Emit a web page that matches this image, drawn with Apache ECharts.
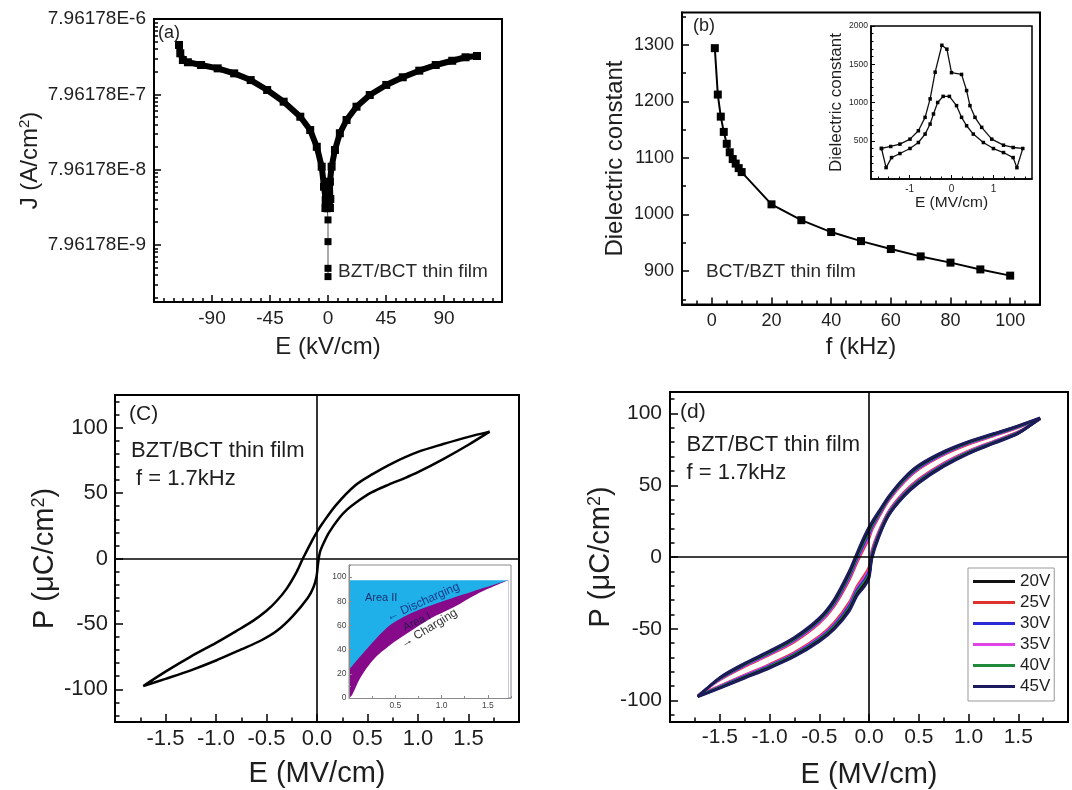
<!DOCTYPE html>
<html><head><meta charset="utf-8">
<script src="https://cdn.jsdelivr.net/npm/echarts@6/dist/echarts.min.js"></script>
<style>html,body{margin:0;padding:0;background:#fff}#c{width:1072px;height:790px}</style>
</head><body><div id="c"></div><script>
const FONT = '"Liberation Sans", Arial, Helvetica, sans-serif';
const INK = '#1e1e1e';

// ---------------- (a) J vs E ----------------
const aYTickLabels = ['7.96178E-9', '7.96178E-8', '7.96178E-7', '7.96178E-6'];
const aXTickValues = [-90, -45, 0, 45, 90];
const aLeftE = [-115.6, -114.6, -112.6, -108.7, -98.5, -85.6, -72.8, -60, -47.2, -34.4, -21.5, -13.8, -8.7, -4.9, -3.1, -1.8, -2];
const aLeftJ = [3.60e-6, 2.79e-6, 2.27e-6, 2.12e-6, 1.95e-6, 1.76e-6, 1.51e-6, 1.23e-6, 9.08e-7, 6.35e-7, 4.01e-7, 2.67e-7, 1.60e-7, 8.7e-8, 4.72e-8, 3.14e-8, 2.46e-8];
const aMidE = [-1.2, -0.6, 0, 0, 0, 0];
const aMidJ = [2.9e-8, 2.4e-8, 1.71e-8, 8.8e-9, 3.89e-9, 3.02e-9];
const aRightE = [1.5, 1.8, 1.5, 2.8, 5.4, 9.2, 14.4, 22.1, 32.4, 45.2, 58, 70.8, 83.6, 96.4, 106.7, 115.6];
const aRightJ = [2.46e-8, 3.24e-8, 5.5e-8, 8.7e-8, 1.45e-7, 2.42e-7, 3.63e-7, 5.45e-7, 7.80e-7, 1.06e-6, 1.34e-6, 1.64e-6, 1.95e-6, 2.22e-6, 2.47e-6, 2.57e-6];

// ---------------- (b) dielectric constant vs f ----------------
const bFreq = [1, 2, 3, 4, 5, 6, 7, 8, 9, 10, 20, 30, 40, 50, 60, 70, 80, 90, 100];
const bEps = [1294, 1212, 1173, 1146, 1125, 1110, 1098, 1090, 1082, 1075, 1018, 990, 969, 953, 939, 926, 915, 903, 892];
const bXTicks = [0, 20, 40, 60, 80, 100];
const bYTicks = [900, 1000, 1100, 1200, 1300];
// inset: closed C–E loop
const bInsetE = [-1.67, -1.45, -1.23, -0.99, -0.79, -0.63, -0.51, -0.39, -0.23, -0.11, 0.0, 0.24, 0.36, 0.44, 0.56, 0.72, 0.96, 1.24, 1.47, 1.70,
                 1.56, 1.47, 1.24, 1.0, 0.76, 0.52, 0.36, 0.24, 0.12, -0.05, -0.2, -0.33, -0.43, -0.51, -0.63, -0.79, -0.99, -1.23, -1.43, -1.56, -1.67];
const bInsetEps = [399, 425, 456, 521, 631, 806, 1047, 1397, 1748, 1697, 1390, 1367, 1156, 959, 806, 675, 521, 442, 412, 399,
                   148, 280, 346, 398, 477, 587, 696, 806, 959, 1080, 1080, 1000, 850, 718, 587, 477, 399, 333, 280, 149, 399];
const bInsetXTicks = [-1, 0, 1];
const bInsetYTicks = [500, 1000, 1500, 2000];

// ---------------- (c) P–E loop ----------------
const cUpE = [1.71, 1.5, 1.25, 1.0, 0.75, 0.55, 0.38, 0.19, 0.055, 0, -0.05, -0.11, -0.14, -0.2, -0.3, -0.4, -0.5, -0.63, -0.8, -1.0, -1.25, -1.5, -1.72];
const cUpP = [97, 93, 87.5, 81.5, 73, 64.5, 56, 41, 27, 20.4, 13.5, 4.5, 0, -10, -23, -32.5, -40, -47.5, -55.5, -64.5, -75, -86.5, -97.5];
const cLoE = [-1.72, -1.5, -1.25, -1.0, -0.75, -0.55, -0.4, -0.24, -0.09, -0.035, -0.005, 0.01, 0.03, 0.07, 0.12, 0.22, 0.3, 0.38, 0.54, 0.71, 0.87, 1.0, 1.25, 1.5, 1.71];
const cLoP = [-97.5, -92, -85.5, -78, -69.5, -62.5, -55.5, -44, -30, -22, -14, -4, 5, 12.5, 20, 31, 37.5, 42.5, 50.5, 56.5, 61.5, 66, 76, 87, 97];
const cXTicks = [-1.5, -1, -0.5, 0, 0.5, 1, 1.5];
const cYTicks = [-100, -50, 0, 50, 100];
// inset: energy storage areas
const cInsetTopE = [0, 1.72];
const cInsetTopP = [97.3, 97.3];
const cInsetDisE = [0, 0.23, 0.445, 0.70, 0.99, 1.32, 1.72];
const cInsetDisP = [23.3, 43.8, 60.4, 71.2, 79.5, 87.7, 97.3];
const cInsetChgE = [0, 0.03, 0.12, 0.26, 0.445, 0.63, 0.88, 1.135, 1.39, 1.72];
const cInsetChgP = [0, 2, 16.4, 31.5, 43.8, 53.5, 65.8, 75.3, 86.3, 97.3];
const cInsetXTicks = [0.5, 1.0, 1.5];
const cInsetYTicks = [0, 20, 40, 60, 80, 100];

// ---------------- (d) P–E loops vs voltage ----------------
const dE = [1.72, 1.5, 1.25, 1.0, 0.75, 0.5, 0.35, 0.2, 0.1, 0.03, 0, -0.05, -0.12, -0.2, -0.35, -0.5, -0.75, -1.0, -1.25, -1.5, -1.72];
const dVoltages = ['20V', '25V', '30V', '35V', '40V', '45V'];
const dColors = {'20V': '#111111', '25V': '#e0322c', '30V': '#2b2bd6', '35V': '#e043e6', '40V': '#1f8a3a', '45V': '#1b1b5e'};
const dUp45 = [97, 91.5, 86, 80.5, 73.5, 64, 55, 42.5, 32, 24.5, 21, 14, 3, -10, -29.5, -42.5, -56, -65.5, -74, -84, -97.5];
const dLo45 = [97, 86, 79, 72, 63, 51.5, 42, 29, 14, -1, -15, -21, -27, -38, -50.5, -59, -69.5, -77.5, -84.5, -91.5, -97.5];
const dUp20 = [96.8, 91.3, 85.7, 80.1, 73.0, 63.4, 54.4, 41.9, 31.2, 23.4, 19.4, 12.4, 1.7, -11.3, -30.5, -43.2, -56.6, -66.0, -74.5, -84.3, -97.3];
const dLo20 = [96.8, 86.3, 79.3, 72.4, 63.5, 52.1, 42.6, 29.6, 14.8, 0.2, -13.4, -19.4, -25.7, -36.7, -49.6, -58.3, -68.9, -77.0, -84.0, -91.2, -97.3];
const dUp40 = [96.6, 91.0, 85.4, 79.7, 72.6, 62.9, 53.8, 41.3, 30.4, 22.2, 17.8, 10.8, 0.3, -12.5, -31.4, -44.0, -57.2, -66.6, -74.9, -84.7, -97.1];
const dLo40 = [96.6, 86.5, 79.6, 72.8, 63.9, 52.6, 43.2, 30.2, 15.6, 1.3, -11.8, -17.8, -24.3, -35.5, -48.6, -57.5, -68.3, -76.4, -83.6, -90.8, -97.1];
const dUp30 = [96.4, 90.8, 85.0, 79.4, 72.1, 62.3, 53.2, 40.7, 29.6, 21.1, 16.1, 9.3, -1.1, -13.8, -32.4, -44.7, -57.8, -67.1, -75.4, -85.0, -96.9];
const dLo30 = [96.4, 86.8, 80.0, 73.1, 64.4, 53.2, 43.8, 30.8, 16.4, 2.5, -10.1, -16.3, -23.0, -34.2, -47.7, -56.8, -67.7, -75.9, -83.1, -90.5, -96.9];
const dUp35 = [96.2, 90.5, 84.7, 79.0, 71.6, 61.8, 52.6, 40.1, 28.8, 19.9, 14.5, 7.7, -2.4, -15.0, -33.3, -45.5, -58.4, -67.7, -75.9, -85.4, -96.7];
const dLo35 = [96.2, 87.0, 80.3, 73.5, 64.9, 53.7, 44.4, 31.4, 17.2, 3.6, -8.5, -14.7, -21.6, -33.0, -46.7, -56.0, -67.1, -75.3, -82.6, -90.1, -96.7];
const dUp25 = [96.0, 90.3, 84.4, 78.6, 71.2, 61.2, 52.1, 39.5, 28.0, 18.8, 12.9, 6.1, -3.8, -16.3, -34.3, -46.2, -59.1, -68.2, -76.4, -85.7, -96.5];
const dLo25 = [96.0, 87.3, 80.6, 73.9, 65.4, 54.3, 45.0, 32.1, 18.1, 4.8, -6.9, -13.1, -20.3, -31.7, -45.8, -55.3, -66.5, -74.8, -82.2, -89.8, -96.5];
const dXTicks = [-1.5, -1, -0.5, 0, 0.5, 1, 1.5];
const dYTicks = [-100, -50, 0, 50, 100];

// ---------------- helpers ----------------
const zip = (xs, ys) => xs.map((x, i) => [x, ys[i]]);
const loop = (up, lo) => zip(dE, up).concat(zip(dE, lo).reverse());
function steps(a, b, s, exclude) {
  const out = [];
  for (let i = 0; a + i * s <= b + 1e-9; i++) {
    const v = +(a + i * s).toFixed(6);
    if (!exclude.some(m => Math.abs(m - v) < 1e-9)) out.push(v);
  }
  return out;
}
const xAxes = [], yAxes = [];
function addAxes(list, dim, gi, o) {
  const pos = dim === 'x' ? 'bottom' : 'left';
  const idx = list.length;
  const lc = o.lineColor || '#000';
  list.push({
    type: 'value', gridIndex: gi, min: o.min, max: o.max, position: pos, z: o.z || 0,
    axisLine: {show: true, onZero: false, lineStyle: {color: lc, width: o.lineWidth || 2}},
    axisTick: {show: true, inside: true, length: o.majLen, customValues: o.majors, lineStyle: {color: lc, width: o.tickWidth || 1.5}},
    axisLabel: {show: true, customValues: o.majors, formatter: o.fmt, fontSize: o.fontSize, fontFamily: FONT, color: o.labelColor || INK, margin: o.margin},
    splitLine: {show: false},
    name: o.name || '', nameLocation: 'middle', nameGap: o.nameGap || 0,
    nameTextStyle: {fontSize: o.nameSize || 12, fontFamily: FONT, color: INK, lineHeight: o.nameLH, rich: o.rich}
  });
  list.push({
    type: 'value', gridIndex: gi, min: o.min, max: o.max, position: pos, z: o.z || 0,
    axisLine: {show: false, onZero: false}, axisLabel: {show: false}, splitLine: {show: false},
    axisTick: {show: true, inside: true, length: o.minLen, customValues: o.minors, lineStyle: {color: lc, width: o.tickWidth || 1.5}}
  });
  return idx;
}

// grids
const grids = [
  {left: 154, top: 19, width: 348, height: 283},
  {left: 682, top: 12.5, width: 358, height: 292},
  {left: 871, top: 26, width: 161, height: 153},
  {left: 115, top: 395, width: 404, height: 327},
  {left: 349, top: 565, width: 162, height: 133},
  {left: 670, top: 392, width: 398, height: 331}
].map((g, i) => Object.assign(g, {show: true, borderColor: i === 4 ? '#8a8a8a' : '#000', borderWidth: i === 4 ? 1 : (i === 2 ? 1.5 : 2), backgroundColor: 'transparent'}));

// (a) axes
const aYMax = Math.log10(7.96178e-6), aYMin = aYMax - 283 / 75.3;
const aYMajors = aYTickLabels.map(s => Math.log10(parseFloat(s)));
const aYMinors = [];
[7.96178e-10, 7.96178e-9, 7.96178e-8, 7.96178e-7].forEach(b => { for (let k = 2; k <= 9; k++) { const v = Math.log10(b * k); if (v > aYMin && v < aYMax) aYMinors.push(v); } });
const axA = addAxes(xAxes, 'x', 0, {min: -135, max: 135, majors: aXTickValues, minors: steps(-127.5, 127.5, 7.5, aXTickValues), fmt: v => String(v), fontSize: 19, margin: 7, majLen: 7, minLen: 4,
  name: 'E (kV/cm)', nameGap: 33, nameSize: 24});
const ayA = addAxes(yAxes, 'y', 0, {min: aYMin, max: aYMax, majors: aYMajors, minors: aYMinors,
  fmt: v => { for (const s of aYTickLabels) if (Math.abs(Math.log10(parseFloat(s)) - v) < 1e-6) return s; return ''; },
  fontSize: 19, margin: 8, majLen: 7, minLen: 4,
  name: 'J (A/cm{s|2})', nameGap: 111, nameSize: 24, nameLH: 26, rich: {s: {fontSize: 15, verticalAlign: 'top', lineHeight: 12, fontFamily: FONT, color: INK}}});

// (b) axes
const axB = addAxes(xAxes, 'x', 1, {min: -10, max: 110, majors: bXTicks, minors: steps(-5, 105, 5, bXTicks), fmt: v => String(v), fontSize: 18, margin: 8, majLen: 7, minLen: 4,
  name: 'f (kHz)', nameGap: 31, nameSize: 24});
const ayB = addAxes(yAxes, 'y', 1, {min: 841, max: 1357, majors: bYTicks, minors: steps(850, 1350, 50, bYTicks), fmt: v => String(v), fontSize: 18, margin: 8, majLen: 7, minLen: 4,
  name: 'Dielectric constant', nameGap: 54, nameSize: 24, nameLH: 26});
const axBi = addAxes(xAxes, 'x', 2, {min: -1.92, max: 1.92, majors: bInsetXTicks, minors: steps(-1.75, 1.75, 0.25, bInsetXTicks), fmt: v => String(v), fontSize: 10, margin: 5, majLen: 4, minLen: 2.5, lineWidth: 1.5, tickWidth: 1,
  name: 'E (MV/cm)', nameGap: 14, nameSize: 15.5});
const ayBi = addAxes(yAxes, 'y', 2, {min: 0, max: 2000, majors: bInsetYTicks, minors: steps(100, 1900, 100, bInsetYTicks), fmt: v => String(v), fontSize: 8.5, margin: 3, majLen: 4, minLen: 2.5, lineWidth: 1.5, tickWidth: 1,
  name: 'Dielectric constant', nameGap: 26, nameSize: 17, nameLH: 18});

// (c) axes
const axC = addAxes(xAxes, 'x', 3, {min: -2, max: 2, majors: cXTicks, minors: steps(-1.75, 1.75, 0.25, cXTicks), fmt: v => v.toFixed(1), fontSize: 22, margin: 6, majLen: 8, minLen: 4.5,
  name: 'E (MV/cm)', nameGap: 37, nameSize: 29});
const ayC = addAxes(yAxes, 'y', 3, {min: -125, max: 125, majors: cYTicks, minors: steps(-120, 120, 10, cYTicks), fmt: v => String(v), fontSize: 22, margin: 7, majLen: 8, minLen: 4.5,
  name: 'P (\u03bcC/cm{s|2})', nameGap: 54, nameSize: 29, nameLH: 30, rich: {s: {fontSize: 18, verticalAlign: 'top', lineHeight: 14, fontFamily: FONT, color: INK}}});
const axCi = addAxes(xAxes, 'x', 4, {min: 0, max: 1.75, majors: cInsetXTicks, minors: steps(0.25, 1.75, 0.25, cInsetXTicks), fmt: v => v.toFixed(1), fontSize: 8.5, margin: 3, majLen: 3, minLen: 2, lineWidth: 1, tickWidth: 1, lineColor: '#8a8a8a', labelColor: '#444', z: 10});
const ayCi = addAxes(yAxes, 'y', 4, {min: 0, max: 110, majors: cInsetYTicks, minors: steps(10, 110, 10, cInsetYTicks), fmt: v => String(v), fontSize: 8.5, margin: 2.5, majLen: 3, minLen: 2, lineWidth: 1, tickWidth: 1, lineColor: '#8a8a8a', labelColor: '#444', z: 10});

// (d) axes
const axD = addAxes(xAxes, 'x', 5, {min: -2, max: 2, majors: dXTicks, minors: steps(-1.75, 1.75, 0.25, dXTicks), fmt: v => v.toFixed(1), fontSize: 21, margin: 5, majLen: 8, minLen: 4.5,
  name: 'E (MV/cm)', nameGap: 38, nameSize: 29});
const ayD = addAxes(yAxes, 'y', 5, {min: -115, max: 115, majors: dYTicks, minors: steps(-110, 110, 10, dYTicks), fmt: v => String(v), fontSize: 21, margin: 8, majLen: 8, minLen: 4.5,
  name: 'P (\u03bcC/cm{s|2})', nameGap: 54, nameSize: 29, nameLH: 30, rich: {s: {fontSize: 18, verticalAlign: 'top', lineHeight: 14, fontFamily: FONT, color: INK}}});

const crossLines = {
  silent: true, symbol: ['none', 'none'], animation: false, label: {show: false},
  lineStyle: {color: '#000', width: 1.6, type: 'solid'},
  data: [{xAxis: 0}, {yAxis: 0}]
};

const series = [];
// (a)
series.push({type: 'line', name: 'aL', xAxisIndex: axA, yAxisIndex: ayA, data: aLeftE.map((e, i) => [e, Math.log10(aLeftJ[i])]),
  symbol: 'rect', symbolSize: 8, itemStyle: {color: '#000'}, lineStyle: {color: '#000', width: 6}});
series.push({type: 'line', name: 'aM', xAxisIndex: axA, yAxisIndex: ayA, data: aMidE.map((e, i) => [e, Math.log10(aMidJ[i])]),
  symbol: 'rect', symbolSize: 7, itemStyle: {color: '#000'}, lineStyle: {color: '#555', width: 1}});
series.push({type: 'line', name: 'aR', xAxisIndex: axA, yAxisIndex: ayA, data: aRightE.map((e, i) => [e, Math.log10(aRightJ[i])]),
  symbol: 'rect', symbolSize: 8, itemStyle: {color: '#000'}, lineStyle: {color: '#000', width: 6}});
// (b)
series.push({type: 'line', name: 'b', xAxisIndex: axB, yAxisIndex: ayB, data: zip(bFreq, bEps),
  symbol: 'rect', symbolSize: 8, itemStyle: {color: '#000'}, lineStyle: {color: '#000', width: 2}});
series.push({type: 'line', name: 'bi', xAxisIndex: axBi, yAxisIndex: ayBi, data: zip(bInsetE, bInsetEps),
  symbol: 'rect', symbolSize: 3.5, itemStyle: {color: '#000'}, lineStyle: {color: '#111', width: 1.3}});
// (c)
series.push({type: 'line', name: 'c', xAxisIndex: axC, yAxisIndex: ayC, data: zip(cUpE, cUpP).concat(zip(cLoE, cLoP)),
  symbol: 'none', smooth: 0.3, lineStyle: {color: '#000', width: 2.5}, markLine: crossLines});
series.push({type: 'line', name: 'ciTop', xAxisIndex: axCi, yAxisIndex: ayCi, data: zip(cInsetTopE, cInsetTopP),
  symbol: 'none', lineStyle: {width: 0}, areaStyle: {color: '#1fb0ea', opacity: 1, origin: 'start'}});
series.push({type: 'line', name: 'ciDis', xAxisIndex: axCi, yAxisIndex: ayCi, data: zip(cInsetDisE, cInsetDisP),
  symbol: 'none', smooth: 0.3, lineStyle: {width: 0}, areaStyle: {color: '#860a8a', opacity: 1, origin: 'start'}});
series.push({type: 'line', name: 'ciChg', xAxisIndex: axCi, yAxisIndex: ayCi, data: zip(cInsetChgE, cInsetChgP),
  symbol: 'none', smooth: 0.3, lineStyle: {width: 0}, areaStyle: {color: '#ffffff', opacity: 1, origin: 'start'}});
// (d) innermost loop first, outermost (45V) last so the dark edge stays on top
const dLoops = [['25V', dUp25, dLo25], ['35V', dUp35, dLo35], ['30V', dUp30, dLo30], ['40V', dUp40, dLo40], ['20V', dUp20, dLo20], ['45V', dUp45, dLo45]];
dLoops.forEach(([name, up, lo], i) => {
  const s = {type: 'line', name, xAxisIndex: axD, yAxisIndex: ayD, data: loop(up, lo), symbol: 'none', smooth: 0.3,
    itemStyle: {color: dColors[name]}, lineStyle: {color: dColors[name], width: 2.6}};
  if (i === 0) s.markLine = crossLines;
  series.push(s);
});

const T = (x, y, text, size, o = {}) => ({
  type: 'text', x, y, rotation: o.rot || 0, z: 100,
  style: {text, fontSize: size, fontFamily: FONT, fill: o.fill || INK, align: o.align || 'left', verticalAlign: 'middle', textAlign: o.align || 'left', textVerticalAlign: 'middle', fontWeight: o.weight || 'normal'}
});
const graphic = [
  T(158, 33, '(a)', 18),
  T(338, 272, 'BZT/BCT thin film', 19, {fill: '#2a2a2a'}),
  T(693, 26.5, '(b)', 18),
  T(706, 272, 'BCT/BZT thin film', 19, {fill: '#2a2a2a'}),
  T(129, 414, '(C)', 21),
  T(131, 451, 'BZT/BCT thin film', 22),
  T(136, 478.5, 'f = 1.7kHz', 22),
  T(680, 412.5, '(d)', 21),
  T(686.5, 445, 'BZT/BCT thin film', 22),
  T(686.5, 473, 'f = 1.7kHz', 22),
  T(365, 598, 'Area II', 11, {fill: '#1b2f6e'}),
  T(423, 602, '\u2190 Discharging', 12, {fill: '#1b3a8a', align: 'center', rot: 0.42}),
  T(417, 622, 'Area I', 11, {fill: '#2a1a50', align: 'center', rot: 0.44}),
  T(429, 628.5, '\u2192 Charging', 12, {fill: '#333', align: 'center', rot: 0.55})
];

const chart = echarts.init(document.getElementById('c'), null, {renderer: 'canvas'});
chart.setOption({
  animation: false,
  backgroundColor: '#fff',
  grid: grids,
  xAxis: xAxes,
  yAxis: yAxes,
  series,
  graphic,
  legend: {
    data: dVoltages, orient: 'vertical', left: 968, top: 568, icon: 'rect',
    itemWidth: 42, itemHeight: 3, itemGap: 4, padding: [5, 4, 6, 5],
    borderColor: '#999', borderWidth: 1, backgroundColor: '#fff',
    textStyle: {fontSize: 17, fontFamily: FONT, color: INK, lineHeight: 17}, selectedMode: false
  }
});
</script></body></html>
